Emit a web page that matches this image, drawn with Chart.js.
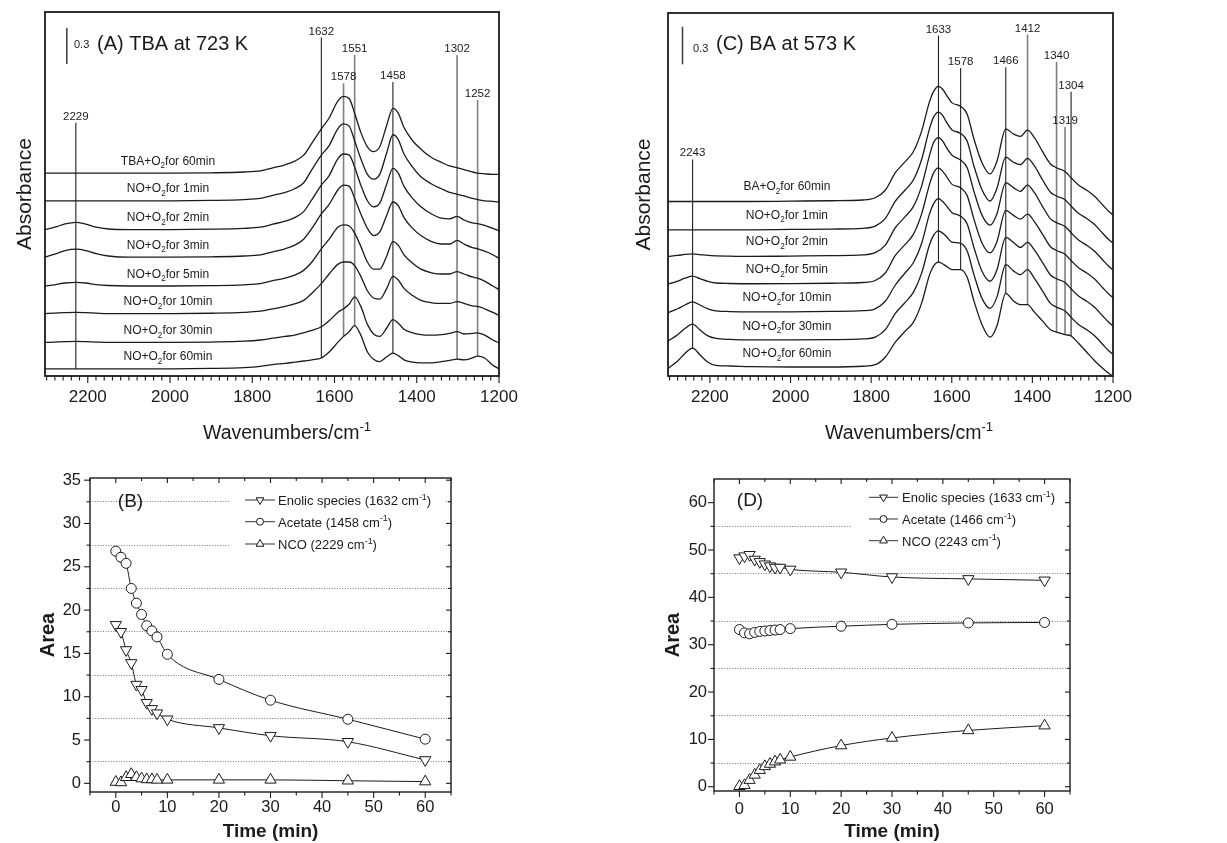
<!DOCTYPE html>
<html>
<head>
<meta charset="utf-8">
<title>IR spectra and band areas</title>
<script src="https://cdn.jsdelivr.net/npm/chart.js@4.4.1/dist/chart.umd.min.js"></script>
<style>
  html, body { margin: 0; padding: 0; background: #ffffff; }
  #page { position: relative; width: 1227px; height: 843px; overflow: hidden; background: #fff; }
  #page canvas { position: absolute; }
</style>
</head>
<body>
<div id="page">
  <canvas id="chartA" width="610" height="450" style="left:0px;top:0px"></canvas>
  <canvas id="chartC" width="617" height="450" style="left:610px;top:0px"></canvas>
  <canvas id="chartB" width="610" height="393" style="left:0px;top:450px"></canvas>
  <canvas id="chartD" width="617" height="393" style="left:610px;top:450px"></canvas>
</div>
<script>
// ================= DATA =================
// ---- Panel A : TBA at 723 K (absorbance above each trace's own baseline) ----
const wnA = [2304,2280,2255,2229,2205,2180,2150,2100,2000,1900,
             1820,1780,1750,1720,1697,1675,1655,1632,1613,1592,
             1578,1564,1551,1536,1520,1505,1490,1473,1458,1445,
             1431,1410,1390,1364,1340,1320,1302,1285,1265,1252,
             1235,1215,1200];
const a_tba60 = [0,0,0,0,0,0,0,0,0,0.003, 0.01,0.02,0.045,0.07,0.10,0.15,0.25,0.37,0.46,0.60,
                 0.64,0.62,0.50,0.34,0.22,0.18,0.22,0.40,0.54,0.50, 0.38,0.27,0.20,0.13,0.09,0.06,0.045,0.03,0.01,0.0,
                 -0.005,-0.01,-0.01];
const a_no1  = [0,0,0,0,0,0,0,0,0,0.003, 0.01,0.02,0.045,0.07,0.10,0.15,0.26,0.38,0.46,0.60,
                 0.64,0.62,0.50,0.35,0.22,0.18,0.22,0.40,0.55,0.51, 0.39,0.28,0.20,0.14,0.10,0.07,0.055,0.04,0.02,0.01,
                 0.0,-0.005,-0.01];
const a_no2  = [0,0.02,0.047,0.06,0.045,0.02,0.005,0,0,0.003, 0.01,0.02,0.045,0.07,0.10,0.15,0.25,0.37,0.45,0.59,
                 0.63,0.62,0.52,0.37,0.24,0.19,0.22,0.38,0.51,0.47, 0.36,0.26,0.19,0.13,0.095,0.09,0.11,0.08,0.055,0.05,
                 0.035,0.01,-0.01];
const a_no3  = [0,0.025,0.055,0.067,0.055,0.03,0.01,0,0,0.003, 0.01,0.02,0.045,0.07,0.10,0.15,0.24,0.36,0.44,0.56,
                 0.60,0.59,0.49,0.36,0.24,0.18,0.21,0.35,0.46,0.43, 0.33,0.24,0.18,0.13,0.11,0.11,0.14,0.11,0.08,0.07,
                 0.05,0.02,-0.01];
const a_no5  = [0,0.01,0.025,0.03,0.025,0.012,0.004,0,0,0.003, 0.01,0.02,0.045,0.065,0.09,0.13,0.20,0.31,0.39,0.49,
                 0.51,0.50,0.44,0.33,0.20,0.14,0.14,0.25,0.37,0.34, 0.26,0.19,0.14,0.11,0.10,0.10,0.12,0.10,0.075,0.065,
                 0.04,0.0,-0.03];
const a_no10 = [0,0.004,0.008,0.01,0.008,0.004,0,0,0,0.003, 0.01,0.02,0.04,0.06,0.08,0.11,0.17,0.25,0.33,0.41,
                 0.43,0.43,0.40,0.31,0.19,0.13,0.12,0.21,0.31,0.28, 0.21,0.15,0.11,0.09,0.085,0.085,0.10,0.085,0.065,0.06,
                 0.04,0.01,-0.015];
const a_no30 = [0,0.003,0.006,0.008,0.006,0.003,0,0,0,0.003, 0.01,0.02,0.035,0.05,0.06,0.08,0.10,0.13,0.18,0.25,
                 0.28,0.32,0.38,0.30,0.15,0.07,0.05,0.12,0.19,0.16, 0.11,0.08,0.065,0.06,0.065,0.075,0.09,0.07,0.075,0.08,
                 0.06,0.02,-0.005];
const a_no60 = [0,0,0,0,0,0,0,0,0,0.003, 0.01,0.02,0.035,0.045,0.055,0.065,0.075,0.09,0.14,0.22,
                 0.27,0.31,0.36,0.28,0.14,0.08,0.06,0.10,0.13,0.11, 0.075,0.055,0.05,0.05,0.06,0.07,0.08,0.075,0.09,0.105,
                 0.09,0.03,0.0];
const offsetsA  = [1.69, 1.46, 1.22, 0.99, 0.75, 0.52, 0.28, 0.06];
const gasA      = ['TBA','NO','NO','NO','NO','NO','NO','NO'];
const timesA    = ['60min','1min','2min','3min','5min','10min','30min','60min'];
const peaksA    = [2229, 1632, 1578, 1551, 1458, 1302, 1252];
const peakTopsA = [2.11, 2.82, 2.44, 2.675, 2.45, 2.675, 2.30];
const peakGrayA = [0, 0, 1, 1, 0, 1, 1];
const xTicksA   = [2200, 2000, 1800, 1600, 1400, 1200];

// ---- Panel C : BA at 573 K ----
const wnC = [2304,2280,2262,2243,2225,2205,2185,2150,2100,2000,
             1900,1820,1790,1765,1740,1715,1695,1675,1655,1645,1633,1622,
             1615,1600,1578,1562,1545,1525,1505,1488,1466,1447,
             1430,1412,1395,1375,1355,1340,1319,1304,1285,1265,
             1245,1225,1210,1200];
const c_ba60 = [0,0,0,0,0,0,0,0,0,0.003, 0.006,0.012,0.03,0.09,0.23,0.32,0.40,0.56,0.80,0.88,0.92,0.895,
                0.86,0.79,0.76,0.70,0.50,0.31,0.22,0.32,0.58,0.54, 0.52,0.57,0.51,0.40,0.30,0.27,0.24,0.19,0.13,0.09,
                0.04,-0.03,-0.08,-0.107];
const c_no1  = [0,0,0,0,0,0,0,0,0,0.003, 0.006,0.012,0.03,0.09,0.23,0.32,0.40,0.56,0.81,0.90,0.94,0.91,
                0.87,0.80,0.77,0.71,0.51,0.32,0.23,0.33,0.58,0.54, 0.52,0.57,0.51,0.40,0.30,0.27,0.24,0.19,0.13,0.09,
                0.04,-0.03,-0.08,-0.107];
const c_no2  = [0,0.008,0.016,0.02,0.015,0.008,0.004,0.002,0,0.003, 0.006,0.012,0.03,0.09,0.23,0.32,0.40,0.56,0.81,0.91,0.95,0.92,
                0.88,0.81,0.77,0.71,0.52,0.33,0.25,0.34,0.59,0.55, 0.52,0.57,0.51,0.40,0.30,0.27,0.24,0.19,0.13,0.09,
                0.04,-0.03,-0.08,-0.107];
const c_no5  = [0,0.025,0.048,0.065,0.045,0.022,0.01,0.006,0.004,0.005, 0.008,0.014,0.03,0.09,0.23,0.32,0.40,0.56,0.80,0.89,0.93,0.90,
                0.87,0.80,0.77,0.71,0.52,0.33,0.25,0.34,0.59,0.55, 0.52,0.56,0.50,0.40,0.30,0.27,0.24,0.19,0.13,0.09,
                0.04,-0.03,-0.08,-0.107];
const c_no10 = [0,0.03,0.06,0.085,0.06,0.03,0.014,0.008,0.005,0.006, 0.009,0.015,0.03,0.09,0.22,0.32,0.40,0.55,0.79,0.87,0.91,0.885,
                0.86,0.80,0.77,0.71,0.52,0.33,0.25,0.34,0.60,0.56, 0.52,0.56,0.50,0.40,0.30,0.27,0.24,0.19,0.13,0.09,
                0.04,-0.03,-0.08,-0.107];
const c_no30 = [0,0.05,0.10,0.135,0.09,0.04,0.02,0.012,0.008,0.008, 0.01,0.016,0.03,0.09,0.22,0.31,0.39,0.54,0.77,0.845,0.88,0.86,
                0.84,0.79,0.78,0.72,0.53,0.34,0.26,0.35,0.61,0.56, 0.53,0.57,0.50,0.40,0.30,0.27,0.24,0.19,0.13,0.09,
                0.04,-0.03,-0.08,-0.107];
const c_no60 = [0,0.06,0.12,0.163,0.11,0.05,0.025,0.02,0.015,0.012, 0.012,0.018,0.03,0.09,0.21,0.30,0.37,0.52,0.75,0.82,0.85,0.835,
                0.82,0.79,0.79,0.73,0.54,0.35,0.25,0.34,0.60,0.54, 0.51,0.51,0.45,0.38,0.31,0.29,0.27,0.26,0.20,0.13,
                0.06,0.0,-0.04,-0.06];
const offsetsC  = [1.394, 1.168, 0.955, 0.733, 0.507, 0.28, 0.06];
const gasC      = ['BA','NO','NO','NO','NO','NO','NO'];
const timesC    = ['60min','1min','2min','5min','10min','30min','60min'];
const peaksC    = [2243, 1633, 1578, 1466, 1412, 1340, 1319, 1304];
const peakTopsC = [1.73, 2.72, 2.46, 2.466, 2.728, 2.51, 1.99, 2.27];
const peakGrayC = [0, 0, 0, 0, 1, 1, 1, 0];
const xTicksC   = [2200, 2000, 1800, 1600, 1400, 1200];

// ---- Panel B : band areas, TBA ----
const timeB    = [0, 1, 2, 3, 4, 5, 6, 7, 8, 10, 20, 30, 45, 60];
const enolicB  = [18.3, 17.5, 15.4, 13.9, 11.4, 10.8, 9.3, 8.6, 8.1, 7.4, 6.4, 5.5, 4.8, 2.7];
const acetateB = [26.8, 26.1, 25.4, 22.5, 20.8, 19.5, 18.2, 17.6, 16.9, 14.9, 12.0, 9.6, 7.4, 5.1];
const ncoB     = [0.15, 0.1, 0.7, 1.05, 0.7, 0.55, 0.45, 0.45, 0.4, 0.4, 0.4, 0.4, 0.3, 0.2];
const yTicksB  = [0, 5, 10, 15, 20, 25, 30, 35];
const yGridB   = [2.5, 7.5, 12.5, 17.5, 22.5, 27.5, 32.5];
const xTicksB  = [0, 10, 20, 30, 40, 50, 60];
const xMinorB  = [-5, 5, 15, 25, 35, 45, 55, 65];

// ---- Panel D : band areas, BA ----
const timeD    = [0, 1, 2, 3, 4, 5, 6, 7, 8, 10, 20, 30, 45, 60];
const enolicD  = [48.3, 48.7, 49.0, 48.0, 47.5, 47.0, 46.6, 46.3, 46.3, 45.9, 45.3, 44.3, 43.9, 43.6];
const acetateD = [33.2, 32.5, 32.3, 32.6, 32.8, 32.9, 33.0, 33.1, 33.2, 33.4, 33.9, 34.3, 34.6, 34.7];
const ncoD     = [0.1, 0.3, 1.4, 2.5, 3.5, 4.3, 4.8, 5.3, 5.7, 6.3, 8.7, 10.3, 11.9, 12.9];
const yTicksD  = [0, 10, 20, 30, 40, 50, 60];
const yGridD   = [5, 15, 25, 35, 45, 55];
const xTicksD  = [0, 10, 20, 30, 40, 50, 60];
const xMinorD  = [-5, 5, 15, 25, 35, 45, 55, 65];

// ================= DRAWING =================
const FONT = "'Liberation Sans', Arial, Helvetica, sans-serif";
const INK = '#1b1b1b';
Chart.defaults.font.family = FONT;
Chart.defaults.color = INK;

function drawRich(ctx, segs, x, y, size, align, weight) {
  const w = weight || 'normal';
  const fontFor = k => `${w} ${k === 'n' ? size : size * 0.68}px ${FONT}`;
  const widths = segs.map(s => { ctx.font = fontFor(s[1]); return ctx.measureText(s[0]).width; });
  const total = widths.reduce((a, b) => a + b, 0);
  let cx = align === 'center' ? x - total / 2 : (align === 'right' ? x - total : x);
  ctx.textAlign = 'left'; ctx.textBaseline = 'alphabetic'; ctx.fillStyle = INK;
  segs.forEach((s, i) => {
    ctx.font = fontFor(s[1]);
    const dy = s[1] === 'sub' ? size * 0.3 : (s[1] === 'sup' ? -size * 0.42 : 0);
    ctx.fillText(s[0], cx, y + dy);
    cx += widths[i];
  });
}
function seg(ctx, x1, y1, x2, y2) { ctx.beginPath(); ctx.moveTo(x1, y1); ctx.lineTo(x2, y2); ctx.stroke(); }

function spectraDeco(p) {
  return {
    id: 'deco' + p.key,
    afterDatasetsDraw(chart) {
      const { ctx, chartArea: ca, scales: { x, y } } = chart;
      ctx.save();
      ctx.strokeStyle = INK; ctx.lineWidth = 1.8;
      ctx.strokeRect(ca.left, ca.top, ca.right - ca.left, ca.bottom - ca.top);
      ctx.lineWidth = 1.1;
      for (let v = 2300; v >= 1200; v -= 20) {
        const px = x.getPixelForValue(v);
        seg(ctx, px, ca.bottom, px, ca.bottom + (v % 200 === 0 ? 7 : 4.5));
      }
      ctx.fillStyle = INK; ctx.textAlign = 'center'; ctx.textBaseline = 'alphabetic';
      ctx.font = `11.5px ${FONT}`;
      p.peaks.forEach((w, k) => ctx.fillText(String(w), x.getPixelForValue(w), y.getPixelForValue(p.peakTops[k]) - 3));
      p.gas.forEach((g, i) => {
        drawRich(ctx, [[g + '+O', 'n'], ['2', 'sub'], ['for ' + p.times[i], 'n']],
          x.getPixelForValue(p.labelWn), y.getPixelForValue(p.offsets[i] + p.labelLift), 12, 'center');
      });
      ctx.textAlign = 'left';
      ctx.font = `11px ${FONT}`; ctx.fillText('0.3', p.barText[0], p.barText[1]);
      ctx.font = `20px ${FONT}`; ctx.fillText(p.title, p.titlePos[0], p.titlePos[1]);
      drawRich(ctx, [['Wavenumbers/cm', 'n'], ['-1', 'sup']], p.xTitle[0], p.xTitle[1], 19.5, 'left');
      ctx.restore();
    }
  };
}

function spectraChart(id, p) {
  const datasets = [];
  p.spectra.forEach((vals, i) => {
    datasets.push({
      data: p.wn.map((w, j) => ({ x: w, y: p.offsets[i] + vals[j] })),
      borderColor: INK, borderWidth: 1.3, pointRadius: 0, fill: false,
      cubicInterpolationMode: 'monotone'
    });
  });
  const last = p.spectra.length - 1;
  p.peaks.forEach((w, k) => {
    const j = p.wn.indexOf(w);
    datasets.push({
      data: [{ x: w, y: p.peakTops[k] }, { x: w, y: p.offsets[last] + p.spectra[last][j] }],
      borderColor: p.peakGray[k] ? '#808080' : '#222', borderWidth: p.peakGray[k] ? 1.6 : 1.1,
      pointRadius: 0, fill: false
    });
  });
  datasets.push({
    data: [{ x: p.bar.wn, y: p.bar.from }, { x: p.bar.wn, y: p.bar.from + p.bar.size }],
    borderColor: '#444', borderWidth: 1.6, pointRadius: 0, fill: false
  });
  return new Chart(document.getElementById(id), {
    type: 'line',
    data: { datasets },
    options: {
      responsive: false, animation: false, devicePixelRatio: 1, events: [],
      layout: { padding: p.padding },
      plugins: { legend: { display: false }, tooltip: { enabled: false } },
      scales: {
        x: {
          type: 'linear', reverse: true, min: 1200, max: 2304,
          afterFit: s => { s.height = p.xHeight; },
          afterBuildTicks: s => { s.ticks = p.xTicks.map(v => ({ value: v })); },
          ticks: { autoSkip: false, maxRotation: 0, minRotation: 0, padding: 11, color: INK, font: { size: 17 },
                   callback: v => String(v) },
          grid: { display: false, drawTicks: false }, border: { display: false }
        },
        y: {
          type: 'linear', min: 0, max: p.yMax,
          afterFit: s => { s.width = p.yWidth; },
          ticks: { display: false }, grid: { display: false, drawTicks: false }, border: { display: false },
          title: { display: true, text: 'Absorbance', color: INK, font: { size: 21 }, padding: { top: p.yTitlePad, bottom: 0 } }
        }
      }
    },
    plugins: [spectraDeco(p)]
  });
}

function kineticDeco(p) {
  return {
    id: 'deco' + p.key,
    afterDatasetsDraw(chart) {
      const { ctx, chartArea: ca, scales: { x, y } } = chart;
      ctx.save();
      ctx.fillStyle = '#ffffff';
      ctx.fillRect(p.legendBox[0], p.legendBox[1], p.legendBox[2], p.legendBox[3]);
      ctx.strokeStyle = INK; ctx.lineWidth = 1.4;
      ctx.strokeRect(ca.left, ca.top, ca.right - ca.left, ca.bottom - ca.top);
      ctx.lineWidth = 1.1;
      p.yMajor.forEach(v => { const py = y.getPixelForValue(v); seg(ctx, ca.left - 6, py, ca.left, py); seg(ctx, ca.right - 5, py, ca.right, py); });
      p.yMinor.forEach(v => { const py = y.getPixelForValue(v); seg(ctx, ca.left - 3.5, py, ca.left, py); seg(ctx, ca.right - 3, py, ca.right, py); });
      p.xMajor.forEach(v => { const px = x.getPixelForValue(v); seg(ctx, px, ca.bottom, px, ca.bottom + 6); seg(ctx, px, ca.top, px, ca.top + 5); });
      p.xMinor.forEach(v => { const px = x.getPixelForValue(v); seg(ctx, px, ca.bottom, px, ca.bottom + 3.5); seg(ctx, px, ca.top, px, ca.top + 3); });
      // legend
      p.series.forEach((s, k) => {
        const yy = p.legendRows[k];
        ctx.strokeStyle = '#333'; ctx.lineWidth = 1;
        seg(ctx, p.legendLine[0], yy, p.legendLine[1], yy);
        ctx.fillStyle = '#fff'; ctx.strokeStyle = INK; ctx.lineWidth = 1;
        const mx = (p.legendLine[0] + p.legendLine[1]) / 2;
        Chart.helpers.drawPoint(ctx, { pointStyle: s.style, rotation: s.rot, radius: s.style === 'circle' ? 3.5 : 4.5, borderWidth: 1 }, mx, yy);
        drawRich(ctx, [[s.name + ' (' + s.band + ' cm', 'n'], ['-1', 'sup'], [')', 'n']], p.legendTextX, yy + 5, 13, 'left');
      });
      ctx.fillStyle = INK; ctx.textAlign = 'center'; ctx.textBaseline = 'alphabetic';
      ctx.font = `19px ${FONT}`;
      ctx.fillText(p.panel, p.panelPos[0], p.panelPos[1]);
      ctx.restore();
    }
  };
}

function kineticChart(id, p) {
  const datasets = p.series.map(s => ({
    data: p.time.map((t, i) => ({ x: t, y: s.values[i] })),
    borderColor: INK, borderWidth: 1, fill: false, cubicInterpolationMode: 'monotone',
    pointStyle: s.style, pointRotation: s.rot, pointRadius: s.style === 'circle' ? 5 : 6.5,
    pointBackgroundColor: '#fff', pointBorderColor: INK, pointBorderWidth: 1
  }));
  return new Chart(document.getElementById(id), {
    type: 'line',
    data: { datasets },
    options: {
      responsive: false, animation: false, devicePixelRatio: 1, events: [],
      layout: { padding: p.padding },
      plugins: { legend: { display: false }, tooltip: { enabled: false } },
      scales: {
        x: {
          type: 'linear', min: -5, max: 65,
          afterFit: s => { s.height = p.xHeight; },
          afterBuildTicks: s => { s.ticks = p.xMajor.map(v => ({ value: v })); },
          ticks: { autoSkip: false, maxRotation: 0, minRotation: 0, padding: p.xTickPad, color: INK, font: { size: 16.5 } },
          grid: { display: false, drawTicks: false }, border: { display: false },
          title: { display: true, text: 'Time (min)', color: INK, font: { size: 19, weight: 'bold' }, padding: { top: 0, bottom: 0 } }
        },
        y: {
          type: 'linear', min: p.yMin, max: p.yMax,
          afterFit: s => { s.width = p.yWidth; },
          afterBuildTicks: s => { s.ticks = p.yMajor.concat(p.yGrid).sort((a, b) => a - b).map(v => ({ value: v })); },
          ticks: { autoSkip: false, padding: p.yTickPad, color: INK, font: { size: 16.5 },
                   callback: v => (p.yMajor.includes(v) ? String(v) : '') },
          grid: { drawTicks: false, lineWidth: 1,
                  color: c => (c.tick && p.yGrid.includes(c.tick.value)) ? '#7a7a7a' : 'rgba(0,0,0,0)' },
          border: { display: false, dash: [1, 1.6] },
          title: { display: true, text: 'Area', color: INK, font: { size: 20, weight: 'bold' }, padding: { top: p.yTitlePad, bottom: 0 } }
        }
      }
    },
    plugins: [kineticDeco(p)]
  });
}

spectraChart('chartA', {
  key: 'A', wn: wnA, spectra: [a_tba60, a_no1, a_no2, a_no3, a_no5, a_no10, a_no30, a_no60],
  offsets: offsetsA, gas: gasA, times: timesA,
  peaks: peaksA, peakTops: peakTopsA, peakGray: peakGrayA, xTicks: xTicksA,
  bar: { wn: 2251, from: 2.6, size: 0.3 },
  yMax: 3.033, padding: { left: 0, top: 12, right: 111, bottom: 0 }, yWidth: 45, xHeight: 74, yTitlePad: 13,
  labelWn: 2005, labelLift: 0.07,
  barText: [74, 48], title: '(A) TBA at 723 K', titlePos: [97, 50], xTitle: [203, 439]
});

spectraChart('chartC', {
  key: 'C', wn: wnC, spectra: [c_ba60, c_no1, c_no2, c_no5, c_no10, c_no30, c_no60],
  offsets: offsetsC, gas: gasC, times: timesC,
  peaks: peaksC, peakTops: peakTopsC, peakGray: peakGrayC, xTicks: xTicksC,
  bar: { wn: 2268, from: 2.49, size: 0.3 },
  yMax: 2.90, padding: { left: 0, top: 13, right: 114, bottom: 0 }, yWidth: 58, xHeight: 74, yTitlePad: 22,
  labelWn: 2009, labelLift: 0.09,
  barText: [83, 52], title: '(C) BA at 573 K', titlePos: [106, 50], xTitle: [215, 439]
});

kineticChart('chartB', {
  key: 'B', time: timeB,
  series: [
    { name: 'Enolic species', band: '1632', values: enolicB, style: 'triangle', rot: 180 },
    { name: 'Acetate', band: '1458', values: acetateB, style: 'circle', rot: 0 },
    { name: 'NCO', band: '2229', values: ncoB, style: 'triangle', rot: 0 }
  ],
  yMin: -1, yMax: 35.25, yMajor: yTicksB, yMinor: yGridB, yGrid: yGridB,
  xMajor: xTicksB, xMinor: xMinorB,
  padding: { left: 0, top: 28, right: 159, bottom: 0 }, yWidth: 90, xHeight: 51,
  yTickPad: 9, xTickPad: 6, yTitlePad: 36,
  legendBox: [229, 29, 216, 75], legendRows: [50, 71.7, 94], legendLine: [245, 275], legendTextX: 278,
  panel: '(B)', panelPos: [130.5, 57]
});

kineticChart('chartD', {
  key: 'D', time: timeD,
  series: [
    { name: 'Enolic species', band: '1633', values: enolicD, style: 'triangle', rot: 180 },
    { name: 'Acetate', band: '1466', values: acetateD, style: 'circle', rot: 0 },
    { name: 'NCO', band: '2243', values: ncoD, style: 'triangle', rot: 0 }
  ],
  yMin: -0.9, yMax: 65, yMajor: yTicksD, yMinor: yGridD, yGrid: yGridD,
  xMajor: xTicksD, xMinor: xMinorD,
  padding: { left: 0, top: 29, right: 157, bottom: 0 }, yWidth: 104, xHeight: 52,
  yTickPad: 7, xTickPad: 9, yTitlePad: 51,
  legendBox: [242, 30, 217, 70], legendRows: [47.3, 69, 90.7], legendLine: [259, 288], legendTextX: 292,
  panel: '(D)', panelPos: [140, 56]
});
</script>
</body>
</html>
